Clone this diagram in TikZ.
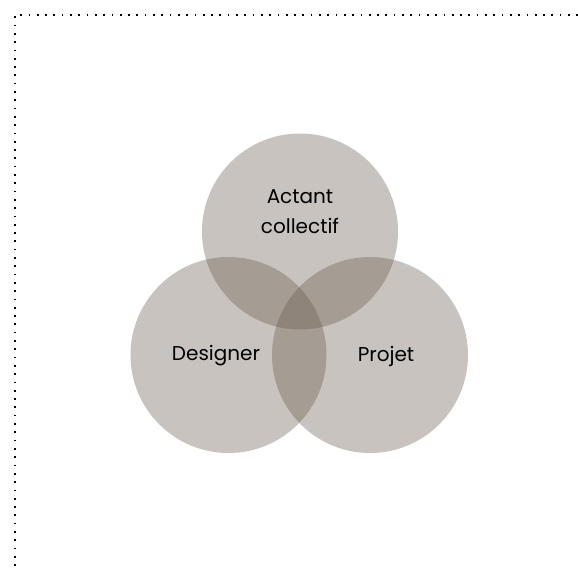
\documentclass[tikz,border=0pt]{standalone}
\usepackage{fontspec}
\setmainfont{Poppins}
\definecolor{venn}{RGB}{104,90,76}
\begin{document}
\begin{tikzpicture}[x=1pt,y=-1pt,
  vcircle/.style={circle,fill=venn,fill opacity=0.364,minimum size=196pt,inner sep=0pt},
  vlabel/.style={font=\fontsize{20}{30}\selectfont,align=center,text=black},
  frame/.style={line width=1.7pt,dash pattern=on 1.7pt off 6.6pt}]
\useasboundingbox (0,0) rectangle (578,569);
\coordinate (tl) at (15,15);
\coordinate (tr) at (578,15);
\coordinate (bl) at (15,569);
\draw[frame] (tr) -- (tl) -- (bl);
\node[vcircle] (top) at (300,231.5) {};
\node[vcircle] (left) at (228.5,355) {};
\node[vcircle] (right) at (370,355) {};
\node[vlabel] (lt) at (300,212) {Actant\\collectif};
\node[vlabel] (ll) at (216,356) {Designer};
\node[vlabel] (lr) at (386,356) {Projet};
\end{tikzpicture}
\end{document}
